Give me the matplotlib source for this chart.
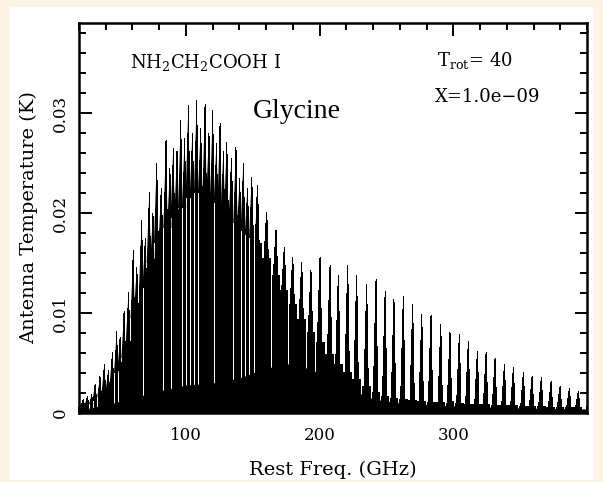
import matplotlib
matplotlib.use("Agg")
import matplotlib.pyplot as plt
from matplotlib.collections import PolyCollection
from matplotlib.patches import Rectangle

# band-head teeth of the glycine spectrum (GHz, K)
line_freq = [23.2, 26.2, 29.5, 32.0, 35.7, 38.9, 41.9, 44.9, 48.2, 50.7,
             53.7, 57.0, 60.6, 63.2, 66.9, 69.5, 72.6, 75.3, 78.1, 81.5,
             85.1, 88.0, 90.5, 93.3, 96.1, 99.0, 101.8, 104.8, 108.0, 111.0,
             114.3, 117.2, 120.0, 122.8, 125.5, 128.0, 130.5, 134.0, 137.4, 140.2,
             142.9, 146.0, 149.2, 153.5, 160.4, 167.4, 173.6, 179.9, 186.6, 193.5,
             200.3, 207.8, 214.0, 221.0, 227.7, 235.2, 242.2, 249.0, 255.6, 262.6,
             269.6, 276.4, 283.3, 290.6, 297.5, 304.5, 311.2, 318.0, 324.5, 331.2,
             338.2, 344.9, 352.4, 358.9, 365.8, 373.1, 379.8, 386.8, 393.5]
line_peak = [0.0013, 0.0016, 0.0018, 0.0028, 0.0036, 0.0048, 0.0042, 0.0060, 0.0081, 0.0075,
             0.0101, 0.0120, 0.0163, 0.0146, 0.0193, 0.0175, 0.0221, 0.0200, 0.0250, 0.0225,
             0.0273, 0.0245, 0.0265, 0.0262, 0.0293, 0.0275, 0.0308, 0.0280, 0.0313, 0.0285,
             0.0309, 0.0280, 0.0303, 0.0270, 0.0290, 0.0262, 0.0271, 0.0255, 0.0266, 0.0235,
             0.0250, 0.0225, 0.0236, 0.0228, 0.0201, 0.0183, 0.0166, 0.0156, 0.0151, 0.0143,
             0.0156, 0.0148, 0.0138, 0.0148, 0.0138, 0.0128, 0.0134, 0.0121, 0.0113, 0.0116,
             0.0108, 0.0098, 0.0097, 0.0088, 0.0080, 0.0078, 0.0071, 0.0061, 0.0060, 0.0054,
             0.0048, 0.0045, 0.0040, 0.0036, 0.0035, 0.0031, 0.0026, 0.0024, 0.0021]
# height of the blended black mass around each tooth
line_shoulder = [0.0006, 0.0008, 0.0009, 0.0012, 0.0016, 0.0020, 0.0022, 0.0028, 0.0040, 0.0042,
                 0.0055, 0.0070, 0.0095, 0.0100, 0.0125, 0.0125, 0.0150, 0.0150, 0.0170, 0.0170,
                 0.0185, 0.0185, 0.0195, 0.0195, 0.0205, 0.0205, 0.0215, 0.0215, 0.0220, 0.0220,
                 0.0218, 0.0215, 0.0212, 0.0210, 0.0205, 0.0202, 0.0198, 0.0195, 0.0190, 0.0185,
                 0.0182, 0.0178, 0.0175, 0.0170, 0.0155, 0.0138, 0.0122, 0.0108, 0.0093, 0.0080,
                 0.0070, 0.0058, 0.0048, 0.0040, 0.0033, 0.0026, 0.0020, 0.0016, 0.0014, 0.0013,
                 0.0012, 0.0011, 0.0010, 0.0010, 0.0009, 0.0009, 0.0008, 0.0008, 0.0008, 0.0007,
                 0.0007, 0.0007, 0.0006, 0.0006, 0.0006, 0.0005, 0.0005, 0.0005, 0.0005]

# solid floor under the white gaps
floor_freq = [20, 40, 60, 80, 100, 120, 140, 160, 180, 200, 220, 240, 260, 300, 350, 400]
floor_level = [0.0003, 0.0008, 0.0015, 0.0022, 0.0028, 0.0030, 0.0035, 0.0045,
               0.0050, 0.0040, 0.0025, 0.0014, 0.0010, 0.0007, 0.0005, 0.0004]

x_ticks = [100, 200, 300]
y_ticks = [0, 0.01, 0.02, 0.03]
y_tick_labels = ["0", "0.01", "0.02", "0.03"]

plt.rcParams["mathtext.fontset"] = "dejavuserif"
serif = "DejaVu Serif"

fig = plt.figure(figsize=(6.03, 4.82), dpi=100, facecolor="#fdf4e4")
fig.add_artist(Rectangle((0.0166, 0.004), 0.9668, 0.9815, transform=fig.transFigure,
                         facecolor="white", edgecolor="none", zorder=-10))
ax = fig.add_axes([0.131, 0.1432, 0.8425, 0.809])
ax.set_zorder(1)

gap = 1.05    # white gap between neighbouring teeth (GHz)
rise = 2.0    # tip width left of the peak (GHz)
fall = 1.2    # tip width right of the peak (GHz)
blocks = []
tips = []
n = len(line_freq)
for k in range(n):
    f = line_freq[k]
    p = line_peak[k]
    s = line_shoulder[k]
    left = (line_freq[k - 1] + f) / 2 + gap / 2 if k > 0 else f - 2
    right = (f + line_freq[k + 1]) / 2 - gap / 2 if k < n - 1 else f + 2
    a = max(left, f - rise)
    b = min(right, f + fall)
    blocks.append([(left, 0), (left, s), (a, s), (f, p), (b, s), (right, s), (right, 0)])
    tips.append([(f - rise, s), (f, p), (f + fall, s)])

ax.add_collection(PolyCollection(blocks, facecolors="black", edgecolors="none",
                                 antialiaseds=False, snap=False))
ax.add_collection(PolyCollection(tips, facecolors="black", edgecolors="none", snap=False))
ax.fill_between(floor_freq, 0, floor_level, color="black", lw=0)

ax.set_xlim(20, 400)
ax.set_ylim(0, 0.039)
ax.set_xticks(x_ticks)
ax.set_xticklabels([str(t) for t in x_ticks], family=serif, fontsize=12)
ax.set_xticks(range(20, 401, 20), minor=True)
ax.set_yticks(y_ticks)
ax.set_yticklabels(y_tick_labels, family=serif, fontsize=12, rotation=90, va="center")
ax.set_yticks([i * 0.002 for i in range(20)], minor=True)
ax.tick_params(which="both", direction="in", top=True, right=True, width=1.4, color="black")
ax.tick_params(which="major", length=9, pad=10)
ax.tick_params(axis="y", which="major", pad=7)
ax.tick_params(which="minor", length=5)
for sp in ax.spines.values():
    sp.set_linewidth(1.8)

ax.set_xlabel("Rest Freq. (GHz)", family=serif, fontsize=14, labelpad=12)
ax.set_ylabel("Antenna Temperature (K)", family=serif, fontsize=14, labelpad=10)

ax.text(0.1, 0.9, r"NH$_2$CH$_2$COOH I", transform=ax.transAxes, family=serif,
        fontsize=13, va="center")
ax.text(0.705, 0.905, r"T$_{\rm rot}$= 40", transform=ax.transAxes, family=serif,
        fontsize=13, va="center")
ax.text(0.70, 0.81, "X=1.0e\u221209", transform=ax.transAxes, family=serif,
        fontsize=13, va="center")
ax.text(0.3425, 0.772, "Glycine", transform=ax.transAxes, family="Liberation Serif",
        fontsize=20, va="center")

fig.savefig("out.png", dpi=100, facecolor=fig.get_facecolor())
